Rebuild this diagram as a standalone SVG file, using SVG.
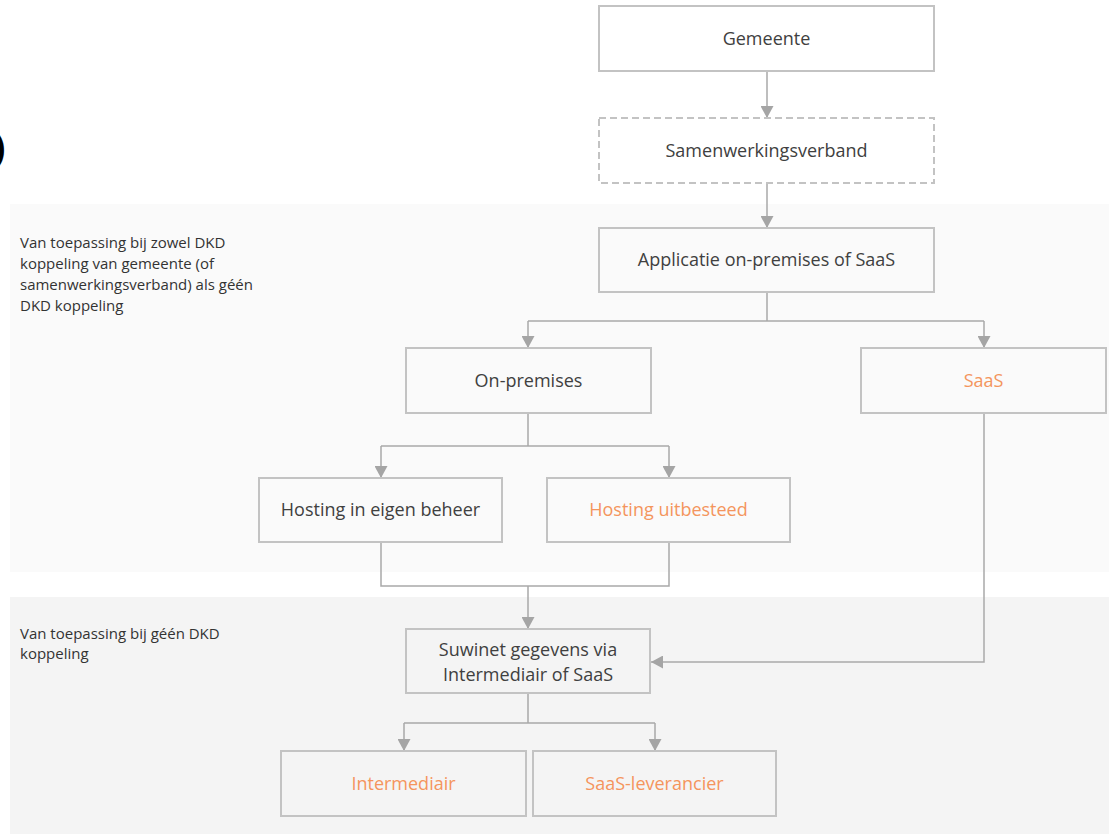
<svg xmlns="http://www.w3.org/2000/svg" width="1109" height="834" viewBox="0 0 1109 834">
<style>
.box{fill:none;stroke:#c3c3c3;stroke-width:2}
.dash{stroke-dasharray:7 4}
.t{font-family:"Open Sans","Noto Sans",sans-serif;font-size:18px;fill:#404040;text-anchor:middle}
.o{fill:#f4955d}
.note{font-family:"Open Sans","Noto Sans",sans-serif;font-size:15px;fill:#333333}
.c{fill:none;stroke:#a9a9a9;stroke-width:1.5}
</style>
<defs>
<marker id="ah" markerUnits="userSpaceOnUse" markerWidth="13" markerHeight="13" refX="12" refY="6.5" orient="auto">
<path d="M0,0 L12,6.5 L0,13 z" fill="#a5a5a5"/>
</marker>
</defs>
<rect width="1109" height="834" fill="#ffffff"/>
<rect x="10" y="204" width="1099" height="368" fill="#fafafa"/>
<rect x="10" y="597" width="1099" height="237" fill="#f4f4f4"/>
<text x="-8" y="161" font-family="Open Sans, sans-serif" font-size="40" font-weight="bold" fill="#000">)</text>
<g id="note1" class="note">
<text x="20" y="248">Van toepassing bij zowel DKD</text>
<text x="20" y="269">koppeling van gemeente (of</text>
<text x="20" y="290">samenwerkingsverband) als géén</text>
<text x="20" y="311">DKD koppeling</text>
</g>
<g id="note2" class="note">
<text x="20" y="639">Van toepassing bij géén DKD</text>
<text x="20" y="659">koppeling</text>
</g>
<g id="connectors">
<path class="c" d="M767,71 V118" marker-end="url(#ah)"/>
<path class="c" d="M767,183 V228" marker-end="url(#ah)"/>
<path class="c" d="M767,292 V321"/>
<path class="c" d="M528,321 H984"/>
<path class="c" d="M528,321 V348" marker-end="url(#ah)"/>
<path class="c" d="M984,321 V348" marker-end="url(#ah)"/>
<path class="c" d="M528,413 V446"/>
<path class="c" d="M381,446 H669"/>
<path class="c" d="M381,446 V478" marker-end="url(#ah)"/>
<path class="c" d="M669,446 V478" marker-end="url(#ah)"/>
<path class="c" d="M381,542 V586 H669 V542"/>
<path class="c" d="M528,586 V629" marker-end="url(#ah)"/>
<path class="c" d="M984,413 V662 H651" marker-end="url(#ah)"/>
<path class="c" d="M528,693 V723"/>
<path class="c" d="M404,723 H655"/>
<path class="c" d="M404,723 V751" marker-end="url(#ah)"/>
<path class="c" d="M655,723 V751" marker-end="url(#ah)"/>
</g>
<g id="gemeente"><rect class="box" x="599" y="6" width="335" height="65"/><text class="t" x="766.5" y="45">Gemeente</text></g>
<g id="samenwerkingsverband"><rect class="box dash" x="599" y="118" width="335" height="65"/><text class="t" x="766.5" y="157">Samenwerkingsverband</text></g>
<g id="applicatie"><rect class="box" x="599" y="228" width="335" height="64"/><text class="t" x="766.5" y="266">Applicatie on-premises of SaaS</text></g>
<g id="onpremises"><rect class="box" x="406" y="348" width="245" height="65"/><text class="t" x="528.5" y="387">On-premises</text></g>
<g id="saas"><rect class="box" x="861" y="348" width="245" height="65"/><text class="t o" x="983.5" y="387">SaaS</text></g>
<g id="hosting-eigen"><rect class="box" x="259" y="478" width="243" height="64"/><text class="t" x="380.5" y="516">Hosting in eigen beheer</text></g>
<g id="hosting-uitbesteed"><rect class="box" x="547" y="478" width="243" height="64"/><text class="t o" x="668.5" y="516">Hosting uitbesteed</text></g>
<g id="suwinet"><rect class="box" x="406" y="629" width="244" height="64"/><text class="t" x="528" y="656">Suwinet gegevens via</text><text class="t" x="528" y="681">Intermediair of SaaS</text></g>
<g id="intermediair"><rect class="box" x="281" y="751" width="245" height="65"/><text class="t o" x="403.5" y="790">Intermediair</text></g>
<g id="saas-leverancier"><rect class="box" x="533" y="751" width="243" height="65"/><text class="t o" x="654.5" y="790">SaaS-leverancier</text></g>
</svg>
